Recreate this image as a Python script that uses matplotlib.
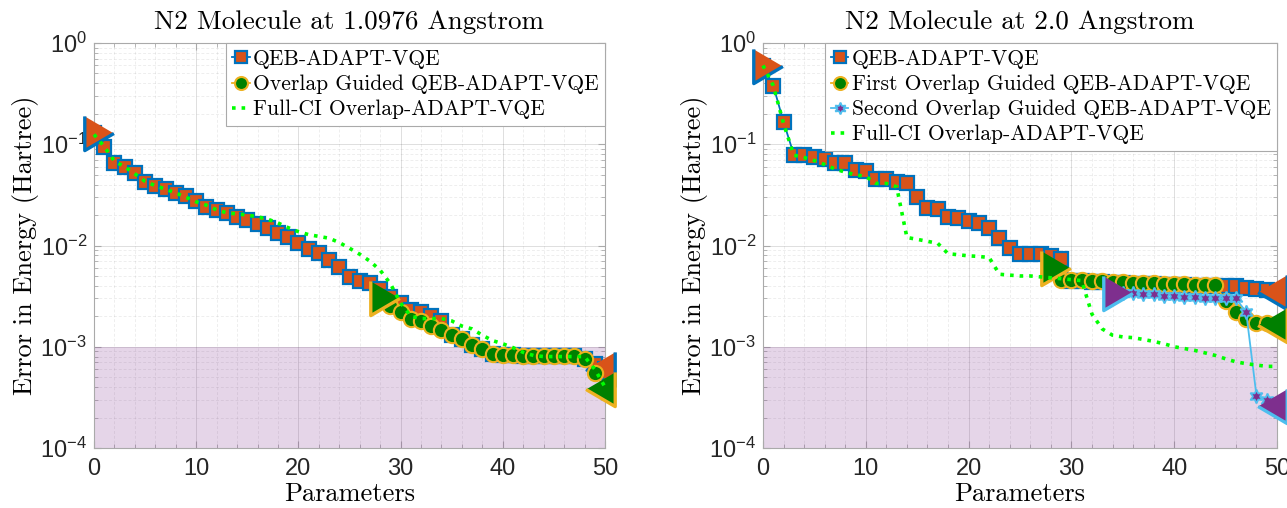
import matplotlib
matplotlib.use('Agg')
import matplotlib.pyplot as plt
import numpy as np
from matplotlib.ticker import LogLocator, NullFormatter, MultipleLocator, FixedLocator
from matplotlib.font_manager import FontProperties

plt.rcParams['font.family'] = ['Liberation Sans', 'DejaVu Sans']
plt.rcParams['mathtext.fontset'] = 'custom'
plt.rcParams['mathtext.rm'] = 'Liberation Sans'
plt.rcParams['mathtext.it'] = 'Liberation Sans:italic'
plt.rcParams['mathtext.bf'] = 'Liberation Sans:bold'

# ---------------- data ----------------
titles = ["N2 Molecule at 1.0976 Angstrom", "N2 Molecule at 2.0 Angstrom"]
xlabel = "Parameters"
ylabel = "Error in Energy (Hartree)"
x_ticks = [0, 10, 20, 30, 40, 50]

# Left panel (1.0976 Angstrom)
qeb_left_x = list(range(0, 51))
qeb_left = [0.13, 0.095, 0.066, 0.060, 0.052, 0.042, 0.039, 0.036, 0.033, 0.031,
            0.0275, 0.024, 0.0224, 0.0209, 0.019, 0.0178, 0.0162, 0.0148, 0.0132, 0.012,
            0.0105, 0.0093, 0.0085, 0.0072, 0.0062, 0.0049, 0.0045, 0.0043, 0.0037, 0.0031,
            0.0027, 0.0023, 0.0022, 0.0020, 0.0018, 0.0013, 0.0012, 0.00105, 0.00096, 0.00085,
            0.00083, 0.00082, 0.00081, 0.00081, 0.00081, 0.00081, 0.00081, 0.00081, 0.00075, 0.00068,
            0.0006]
ovl_left_x = list(range(28, 51))
ovl_left = [0.0030, 0.0025, 0.0022, 0.0019, 0.0018, 0.0016, 0.00145, 0.0013, 0.0012, 0.00105,
            0.00096, 0.00085, 0.00083, 0.00082, 0.00081, 0.00081, 0.00081, 0.00081, 0.00081, 0.00081,
            0.00075, 0.00055, 0.00038]
fci_left_x = list(range(0, 51))
fci_left = [0.125, 0.095, 0.068, 0.060, 0.051, 0.043, 0.039, 0.036, 0.033, 0.030,
            0.027, 0.025, 0.0225, 0.021, 0.0205, 0.0200, 0.0192, 0.0182, 0.0167, 0.0150,
            0.0137, 0.0128, 0.0123, 0.0118, 0.0107, 0.0094, 0.0082, 0.0070, 0.0057, 0.0042,
            0.0027, 0.0020, 0.0019, 0.0019, 0.0019, 0.0018, 0.0016, 0.0015, 0.0013, 0.00115,
            0.00107, 0.00098, 0.00088, 0.00082, 0.00080, 0.00080, 0.00080, 0.00080, 0.00080, 0.00060,
            0.00040]

# Right panel (2.0 Angstrom)
qeb_right_x = list(range(0, 51))
qeb_right = [0.59, 0.38, 0.166, 0.079, 0.078, 0.074, 0.071, 0.066, 0.065, 0.056,
             0.054, 0.045, 0.045, 0.042, 0.041, 0.030, 0.0234, 0.023, 0.019, 0.0186,
             0.0176, 0.0166, 0.0148, 0.0118, 0.0095, 0.0083, 0.0083, 0.0083, 0.0078, 0.0074,
             0.0045, 0.0045, 0.0044, 0.0044, 0.0043, 0.0043, 0.0042, 0.0042, 0.0042, 0.0041,
             0.0041, 0.0041, 0.0040, 0.0040, 0.0040, 0.0040, 0.0040, 0.0038, 0.0037, 0.0036,
             0.0035]
ovl1_right_x = list(range(28, 51))
ovl1_right = [0.0060, 0.0046, 0.0046, 0.0046, 0.0045, 0.0045, 0.0044, 0.0044, 0.0043, 0.0043,
              0.0043, 0.0042, 0.0042, 0.0042, 0.0041, 0.0041, 0.0041, 0.0028, 0.0022, 0.0019,
              0.0017, 0.0017, 0.00165]
ovl2_right_x = list(range(34, 51))
ovl2_right = [0.0034, 0.0034, 0.0034, 0.0033, 0.0033, 0.0032, 0.0032, 0.0031, 0.0031, 0.0030,
              0.0030, 0.0030, 0.0030, 0.0022, 0.00033, 0.00030, 0.00026]
fci_right_x = list(range(0, 51))
fci_right = [0.60, 0.38, 0.16, 0.078, 0.074, 0.069, 0.063, 0.057, 0.053, 0.050,
             0.048, 0.041, 0.041, 0.038, 0.012, 0.0115, 0.011, 0.0105, 0.0083, 0.0081,
             0.0079, 0.0078, 0.0076, 0.0052, 0.0051, 0.0050, 0.0050, 0.0049, 0.0048, 0.0047,
             0.0046, 0.0045, 0.0021, 0.0015, 0.0013, 0.00125, 0.00123, 0.00118, 0.00113, 0.00107,
             0.0010, 0.00096, 0.00092, 0.00087, 0.00082, 0.00076, 0.00071, 0.00068, 0.00066, 0.00064,
             0.00064]

chem_acc = (1e-4, 1e-3)

# ---------------- styles ----------------
C_ORANGE = '#D95319'
C_BLUE = '#0072BD'
C_GREEN = '#008000'
C_GOLD = '#EDB120'
C_PURPLE = '#7E2F8E'
C_LBLUE = '#4DBEEE'
C_LIME = '#00FF00'

TRI_R = [(-1, 1.76), (-1, -1.76), (2, 0)]
TRI_L = [(1, 1.76), (1, -1.76), (-2, 0)]
TRI_MS = 28
TRI_MEW = 2.4

serif = 'cmr10'

fig = plt.figure(figsize=(12.87, 5.08), dpi=100)
ax1 = fig.add_axes([94 / 1287, 60 / 508, 511 / 1287, 405 / 508])
ax2 = fig.add_axes([763 / 1287, 60 / 508, 514 / 1287, 405 / 508])


def series(ax, x, y, face, edge, marker, ms, mew, label, z):
    ln, = ax.plot(x, y, color=edge, lw=1.3, marker=marker, ms=ms, mfc=face, mec=edge,
                  mew=mew, label=label, zorder=z, clip_on=False)
    ax.plot([x[0]], [y[0]], ls='none', marker=TRI_R, ms=TRI_MS, mfc=face, mec=edge,
            mew=TRI_MEW, zorder=z + 0.1, clip_on=False)
    ax.plot([x[-1]], [y[-1]], ls='none', marker=TRI_L, ms=TRI_MS, mfc=face, mec=edge,
            mew=TRI_MEW, zorder=z + 0.1, clip_on=False)
    return ln


def style_axes(ax, title):
    ax.set_yscale('log')
    ax.set_xlim(0, 50)
    ax.set_ylim(1e-4, 1e0)
    ax.set_axisbelow(True)
    ax.axhspan(chem_acc[0], chem_acc[1], color=C_PURPLE, alpha=0.2, lw=0, zorder=1)
    ax.xaxis.set_major_locator(FixedLocator(x_ticks))
    ax.xaxis.set_minor_locator(MultipleLocator(2))
    ax.yaxis.set_major_locator(LogLocator(base=10, numticks=10))
    ax.yaxis.set_minor_locator(LogLocator(base=10, subs=np.arange(2, 10), numticks=50))
    ax.yaxis.set_minor_formatter(NullFormatter())
    ax.grid(True, which='major', color='#262626', alpha=0.15, lw=0.7)
    ax.grid(True, which='minor', color='#262626', alpha=0.08, lw=0.7, ls=(0, (3, 2)))
    for s in ax.spines.values():
        s.set_color('#AAAAAA')
        s.set_linewidth(0.8)
    ax.tick_params(which='both', direction='in', top=True, right=True, color='#AAAAAA',
                   labelsize=17, labelcolor='#262626', pad=5)
    ax.tick_params(axis='x', which='major', pad=7)
    ax.tick_params(which='major', length=5)
    ax.tick_params(which='minor', length=3)
    ax.set_title(title, fontfamily=serif, fontsize=19.5, pad=10, color='#000000')
    ax.set_xlabel(xlabel, fontfamily=serif, fontsize=19, labelpad=2)
    ax.set_ylabel(ylabel, fontfamily=serif, fontsize=19, labelpad=1)


style_axes(ax1, titles[0])
style_axes(ax2, titles[1])

# left
l1 = series(ax1, qeb_left_x, qeb_left, C_ORANGE, C_BLUE, 's', 10, 1.6, 'QEB-ADAPT-VQE', 3)
l2 = series(ax1, ovl_left_x, ovl_left, C_GREEN, C_GOLD, 'o', 11, 1.5, 'Overlap Guided QEB-ADAPT-VQE', 4)
l3, = ax1.plot(fci_left_x, fci_left, color=C_LIME, lw=2.6, ls=':', label='Full-CI Overlap-ADAPT-VQE',
               zorder=8, clip_on=False)

# right
r1 = series(ax2, qeb_right_x, qeb_right, C_ORANGE, C_BLUE, 's', 10, 1.6, 'QEB-ADAPT-VQE', 3)
r2 = series(ax2, ovl1_right_x, ovl1_right, C_GREEN, C_GOLD, 'o', 11, 1.5,
            'First Overlap Guided QEB-ADAPT-VQE', 4)
r3 = series(ax2, ovl2_right_x, ovl2_right, C_PURPLE, C_LBLUE, (6, 1, 0), 10, 1.3,
            'Second Overlap Guided QEB-ADAPT-VQE', 5)
r4, = ax2.plot(fci_right_x, fci_right, color=C_LIME, lw=2.6, ls=':', label='Full-CI Overlap-ADAPT-VQE',
               zorder=8, clip_on=False)

lp = FontProperties(family=serif, size=15.5)
for ax, hs in ((ax1, [l1, l2, l3]), (ax2, [r1, r2, r3, r4])):
    leg = ax.legend(handles=hs, loc='upper right', bbox_to_anchor=(1, 1), borderaxespad=0,
                    prop=lp, fancybox=False, framealpha=1, edgecolor='#AAAAAA',
                    handlelength=0.8, handletextpad=0.15, borderpad=0.3, labelspacing=0.26,
                    markerscale=0.85)
    leg.get_frame().set_linewidth(0.8)
    leg.set_zorder(10)

fig.savefig('out.png', dpi=100)
